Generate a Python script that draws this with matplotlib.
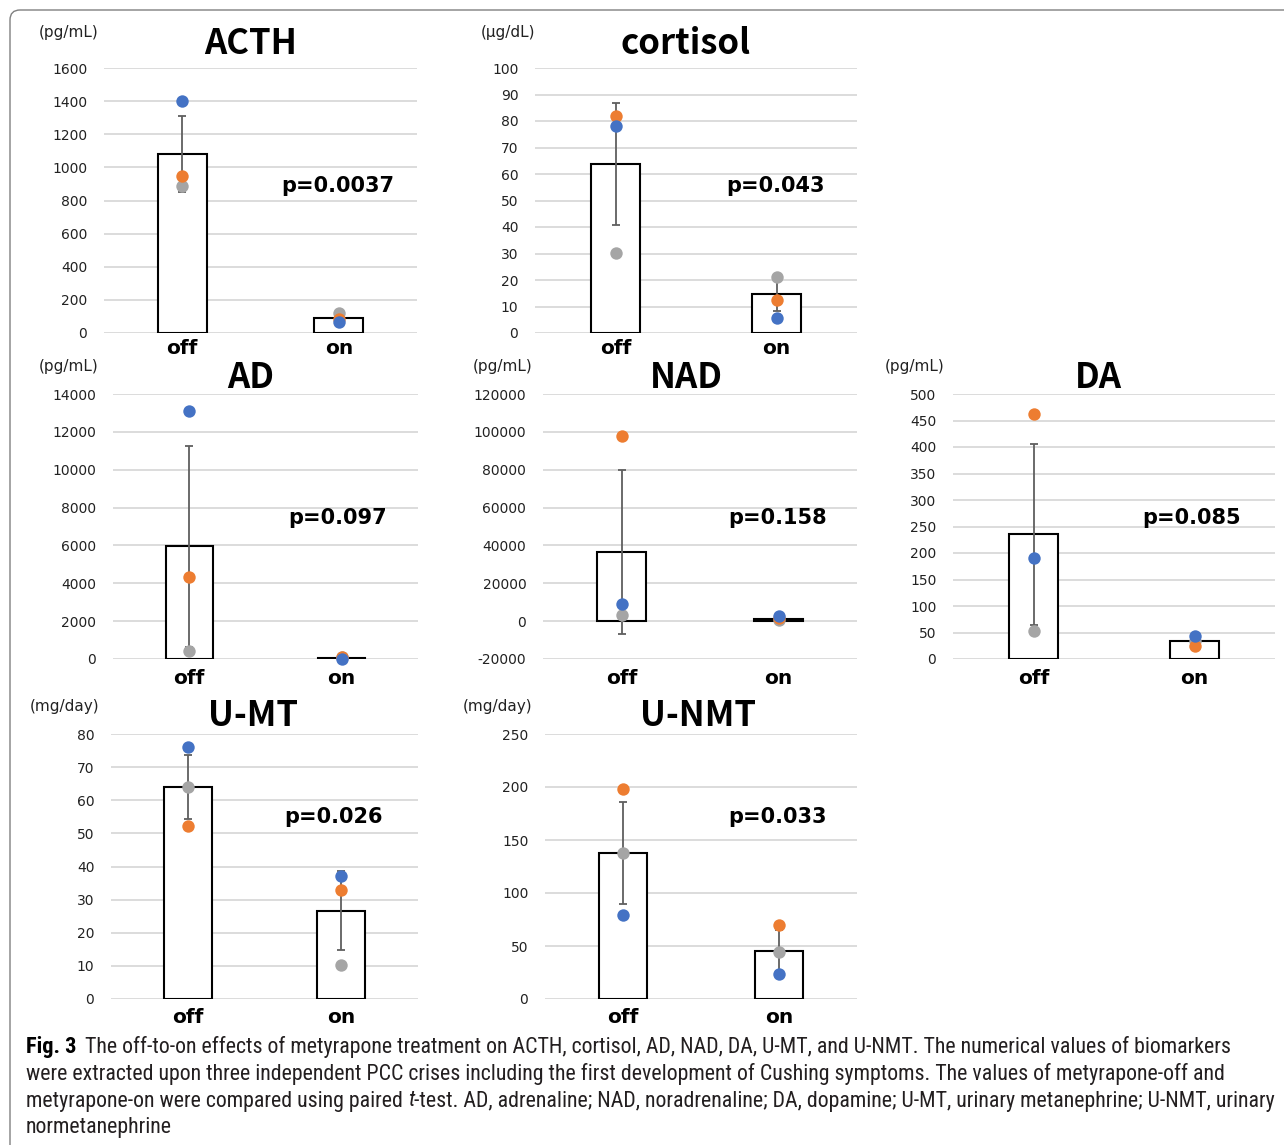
import matplotlib
matplotlib.use("Agg")
import matplotlib.pyplot as plt
from matplotlib import font_manager
from matplotlib.patches import FancyBboxPatch
from matplotlib.transforms import IdentityTransform

W, H = 1284, 1145
DPI = 100

categories = ['off', 'on']

acth_mean = [1079, 89]
acth_sd = [230, 17]
acth_blue = [1403, 65]
acth_orange = [950, 85]
acth_gray = [886, 123]

cort_mean = [63.8, 14.6]
cort_sd = [23.0, 6.2]
cort_blue = [78.3, 5.5]
cort_orange = [81.9, 12.3]
cort_gray = [30.3, 21.0]

ad_mean = [5950, 70]
ad_sd = [5300, 40]
ad_blue = [13090, 10]
ad_orange = [4350, 120]
ad_gray = [440, 90]

nad_mean = [36600, 1300]
nad_sd = [43500, 900]
nad_blue = [9300, 2800]
nad_orange = [97800, 1500]
nad_gray = [3200, 500]

da_mean = [235, 34.6]
da_sd = [170, 7]
da_blue = [190.6, 43]
da_orange = [461.7, 24.5]
da_gray = [52, 34.5]

umt_mean = [64.0, 26.7]
umt_sd = [9.7, 11.85]
umt_blue = [76.0, 37.1]
umt_orange = [52.2, 33.0]
umt_gray = [64.1, 10.2]

unmt_mean = [137.7, 45.6]
unmt_sd = [48.0, 19.5]
unmt_blue = [79.5, 23.3]
unmt_orange = [198.0, 69.8]
unmt_gray = [137.4, 44.6]

titles = ['ACTH', 'cortisol', 'AD', 'NAD', 'DA', 'U-MT', 'U-NMT']
units = ['(pg/mL)', '(\u03bcg/dL)', '(pg/mL)', '(pg/mL)', '(pg/mL)', '(mg/day)', '(mg/day)']
pvalues = ['p=0.0037', 'p=0.043', 'p=0.097', 'p=0.158', 'p=0.085', 'p=0.026', 'p=0.033']
yranges = [(0, 1600, 200), (0, 100, 10), (0, 14000, 2000), (-20000, 120000, 20000),
           (0, 500, 50), (0, 80, 10), (0, 250, 50)]

caption_bold = 'Fig. 3'
caption_lines = [
    [('The off-to-on effects of metyrapone treatment on ACTH, cortisol, AD, NAD, DA, U-MT, and U-NMT. The numerical values of biomarkers', 'normal')],
    [('were extracted upon three independent PCC crises including the first development of Cushing symptoms. The values of metyrapone-off and', 'normal')],
    [('metyrapone-on were compared using paired ', 'normal'), ('t', 'italic'),
     ('-test. AD, adrenaline; NAD, noradrenaline; DA, dopamine; U-MT, urinary metanephrine; U-NMT, urinary', 'normal')],
    [('normetanephrine', 'normal')],
]

BLUE = '#4472C4'
ORANGE = '#ED7D31'
GRAY = '#A5A5A5'
ERR = '#5f5f5f'
GRID = '#D9D9D9'

JP = ['Noto Sans CJK JP', 'DejaVu Sans']
WIDE = ['DejaVu Sans']
plt.rcParams['font.family'] = JP

avail = {f.name for f in font_manager.fontManager.ttflist}
cap_font = None
for c in ['Liberation Sans Narrow', 'Roboto Condensed', 'Open Sans Condensed', 'Noto Sans', 'Liberation Sans']:
    if c in avail:
        cap_font = c
        break

fig = plt.figure(figsize=(W / DPI, H / DPI), dpi=DPI)

# border (open on the right and bottom like the reference crop)
border = FancyBboxPatch((10, -30), 1400, H - 10 + 30,
                        boxstyle='round,pad=0,rounding_size=10',
                        transform=IdentityTransform(), fill=False, edgecolor='#808080',
                        linewidth=1.0)
fig.patches.append(border)

# panel pixel layout: x0, x1, ytop, ybot ; title x, unit x ; pvalue x, y ; xlabel pad
layout = [
    (104, 417, 68, 333, 251, 69, 338, 186, 4),
    (535, 857, 68, 333, 686, 508, 775, 186, 4),
    (113, 418, 394, 659, 251, 69, 338, 518, 7.5),
    (543, 857, 394, 659, 686, 503, 778, 518, 7.5),
    (953, 1275, 394, 659, 1098, 915, 1192, 518, 7.5),
    (111, 418, 734, 999, 253, 65, 333, 817, 6.5),
    (545, 857, 734, 999, 698, 498, 778, 817, 6.5),
]
title_y = [44, 44, 377, 377, 377, 716, 716]
unit_y = [33, 33, 366, 366, 366, 707, 707]

data = [
    (acth_mean, acth_sd, acth_blue, acth_orange, acth_gray),
    (cort_mean, cort_sd, cort_blue, cort_orange, cort_gray),
    (ad_mean, ad_sd, ad_blue, ad_orange, ad_gray),
    (nad_mean, nad_sd, nad_blue, nad_orange, nad_gray),
    (da_mean, da_sd, da_blue, da_orange, da_gray),
    (umt_mean, umt_sd, umt_blue, umt_orange, umt_gray),
    (unmt_mean, unmt_sd, unmt_blue, unmt_orange, unmt_gray),
]

xs = [0, 1]
for i, (mean, sd, blue, orange, gray) in enumerate(data):
    x0, x1, yt, yb, tx, ux, px, py, xpad = layout[i]
    ax = fig.add_axes([x0 / W, (H - yb) / H, (x1 - x0) / W, (yb - yt) / H])
    ymin, ymax, step = yranges[i]
    ax.set_ylim(ymin, ymax)
    ax.set_xlim(-0.5, 1.5)
    ticks = list(range(ymin, ymax + 1, step))
    ax.set_yticks(ticks)
    ax.set_yticklabels([str(t) for t in ticks], fontsize=10, color='#222222', family=WIDE)
    ax.set_xticks(xs)
    ax.set_xticklabels(categories, fontsize=14.5, fontweight='bold', family=WIDE)
    ax.tick_params(axis='y', length=0, pad=12)
    ax.tick_params(axis='x', length=0, pad=xpad)
    for s in ax.spines.values():
        s.set_visible(False)
    ax.set_axisbelow(True)
    ax.grid(axis='y', color=GRID, linewidth=1.3)
    ax.set_facecolor('none')
    ax.bar(xs, mean, width=0.31, color='white', edgecolor='black', linewidth=1.5, zorder=2)
    ax.errorbar(xs, mean, yerr=sd, fmt='none', ecolor=ERR, elinewidth=1.3,
                capsize=3, capthick=1.3, zorder=3, clip_on=False)
    for vals, col in ((gray, GRAY), (orange, ORANGE), (blue, BLUE)):
        ax.scatter(xs, vals, s=80, color=col, zorder=4, clip_on=False, linewidths=0)
    fig.text(tx / W, 1 - title_y[i] / H, titles[i], fontsize=25, fontweight='bold',
             ha='center', va='center')
    fig.text(ux / W, 1 - unit_y[i] / H, units[i], fontsize=11, ha='center', va='center',
             color='#222222', family=WIDE)
    fig.text(px / W, 1 - py / H, pvalues[i], fontsize=15, fontweight='bold',
             ha='center', va='center', family=WIDE)

# caption
fig.canvas.draw()
renderer = fig.canvas.get_renderer()
cap_size = 13.5
cap_family = [cap_font, 'DejaVu Sans'] if cap_font else ['DejaVu Sans']

probe = fig.text(0, 0, ''.join(s for s, _ in caption_lines[2]), fontsize=cap_size, family=cap_family)
wpx = probe.get_window_extent(renderer).width
probe.remove()
target = 1279 - 26
cap_size = cap_size * target / wpx

line_ys = [1047, 1074, 1101, 1127]
for li, segs in enumerate(caption_lines):
    x = 26
    y = 1 - line_ys[li] / H
    if li == 0:
        t = fig.text(x / W, y, caption_bold, fontsize=cap_size * 1.02, fontweight='bold',
                     family=cap_family, va='center', ha='left')
        x += t.get_window_extent(renderer).width + 9
    for s, style in segs:
        t = fig.text(x / W, y, s, fontsize=cap_size, style=style, family=cap_family,
                     va='center', ha='left', color='#231f20')
        x += t.get_window_extent(renderer).width

fig.savefig('out.png', dpi=DPI)
